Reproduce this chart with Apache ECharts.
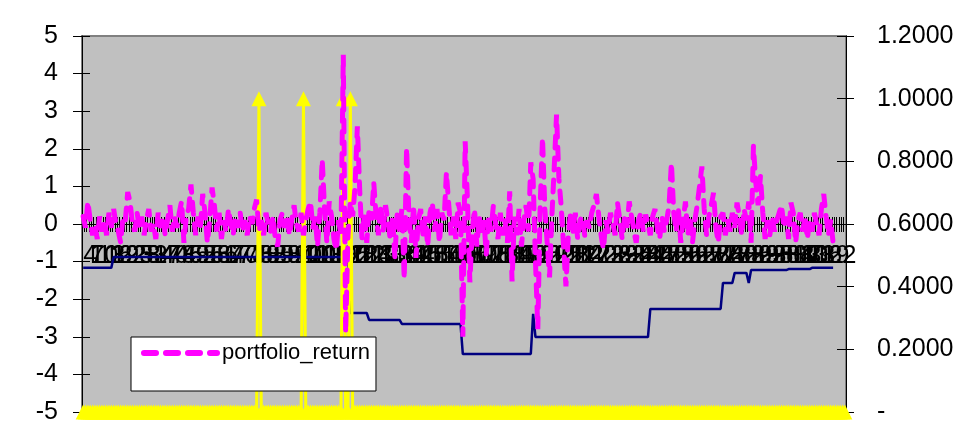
<!DOCTYPE html>
<html>
<head>
<meta charset="utf-8">
<title>portfolio_return</title>
<script src="https://cdn.jsdelivr.net/npm/echarts@6/dist/echarts.min.js"></script>
<style>
  html, body { margin: 0; padding: 0; background: #fff; }
  #chart { width: 960px; height: 441px; }
</style>
</head>
<body>
<div id="chart"></div>
<script>
// category count (1..326), labels every 3rd
const categoryCount = 326;
const categories = Array.from({ length: categoryCount }, (_, i) => String(i + 1));

// left axis: portfolio_return
const portfolioReturn = [
  0.2, -0.1, 0.6, 0.1, -0.3, 0.0, -0.4, 0.2, -0.2, 0.1, -0.3, 0.3, -0.1, 0.4, 0.0, -0.2, -0.5, 0.2, 0.1, 0.85,
  0.6, 0.0, -0.2, 0.3, -0.1, 0.2, -0.3, 0.1, 0.4, -0.2, 0.0, -0.4, 0.3, -0.1, 0.2, -0.3, 0.1, 0.5, -0.2, 0.2,
  -0.1, 0.3, 0.6, -0.5, 0.2, 0.4, 1.05, 0.3, -0.3, 0.2, -0.1, 0.8, 0.3, -0.5, 0.1, 0.97, 0.5, -0.2, 0.3, -0.4,
  0.1, -0.2, 0.4, 0.0, -0.3, 0.2, -0.1, 0.3, -0.2, 0.1, -0.3, 0.2, 0.0, 0.4, 0.65, -0.2, 0.1, -0.3, 0.3, 0.0,
  -0.2, 0.2, -0.4, -0.6, 0.1, 0.3, -0.1, 0.2, -0.3, 0.1, 0.5, 0.0, -0.2, 0.3, -0.3, 0.1, 0.4, 0.6, -0.1, 0.2,
  -0.6, 0.3, 1.72, 0.4, -0.5, 0.6, 0.2, -0.4, -0.7, 0.1, -0.3, 4.5, -2.9, -0.3, 0.6, 0.2, 1.0, 2.6, 0.9, -0.4,
  0.3, -0.5, 0.4, 0.1, 1.1, 0.2, -0.3, 0.5, -0.2, 0.5, 0.1, -0.4, 0.2, -0.9, 0.3, -0.2, 0.4, -1.47, 2.03, 0.2,
  -0.5, 0.5, -0.9, 0.1, 0.4, -0.3, 0.2, -0.6, 0.3, 0.57, -0.2, 0.4, -0.5, 0.3, 0.1, 1.37, 0.5, -0.3, 0.2, -0.4,
  0.57, 0.3, -3.0, 2.2, 0.6, -1.55, -0.2, 0.4, -0.6, 0.2, -0.3, 0.1, -0.8, 0.2, -0.2, 0.47, 0.0, -0.4, 0.3, -0.3,
  0.1, -0.5, 0.87, -1.53, 0.2, -0.3, 0.4, -0.6, 0.1, 0.5, -0.2, 1.64, 1.2, -1.0, -2.8, 0.5, 2.3, 0.4, -0.5, -1.42,
  0.2, 1.5, 2.91, 1.2, 0.45, -0.6, -1.66, -0.3, 0.3, -0.2, 0.3, -0.4, 0.1, 0.2, -0.3, 0.1, -0.1, 0.3, 0.5, 0.8,
  0.2, -0.3, -0.67, 0.1, -0.2, 0.3, 0.0, -0.3, 0.57, 0.1, -0.4, 0.2, -0.1, 0.6, 0.2, -0.2, -0.5, 0.1, 0.3, -0.2,
  0.25, 0.0, -0.3, 0.2, 0.4, -0.1, -0.4, 0.2, -0.2, 0.1, 0.5, 1.63, 0.3, -0.2, 0.4, -0.5, 0.1, 0.6, -0.3, 0.2,
  -0.5, 0.1, 0.5, 1.0, 1.53, 0.4, -0.3, 0.2, 0.5, 0.83, -0.1, -0.5, 0.2, 0.3, -0.3, 0.1, -0.2, 0.3, -0.1, 0.57,
  0.2, -0.3, 0.4, 0.1, 0.6, -0.5, 2.07, 1.1, 0.5, 1.27, 0.3, -0.4, 0.1, -0.3, 0.2, -0.2, 0.1, 0.3, 0.5, -0.1,
  0.2, -0.4, 0.57, 0.3, -0.5, 0.1, 0.3, -0.2, 0.2, -0.4, 0.1, -0.2, 0.3, 0.0, -0.3, 0.4, 0.8, 0.2, -0.3, 0.1,
  -0.5
];

// right axis: navy step line, read as [value, number of points]
const levelRuns = [
  [0.46, 13], [0.495, 101], [0.316, 8], [0.294, 14], [0.281, 26], [0.185, 30],
  [0.313, 1], [0.239, 49], [0.329, 31], [0.412, 5], [0.444, 6], [0.412, 1],
  [0.453, 16], [0.456, 10], [0.46, 10]
];

// right axis: yellow signal, 1 at these category positions, 0 elsewhere
const signalPositions = [75, 94, 111, 114];

const leftTicks = { min: -5, max: 5, interval: 1 };
const rightTicks = { min: 0, max: 1.2, interval: 0.2 };

const level = [];
levelRuns.forEach(([v, n]) => { for (let k = 0; k < n; k++) level.push(v); });
const signal = categories.map((_, i) => (signalPositions.includes(i) ? 1 : 0));

const font = 'Liberation Sans, Arial, sans-serif';
const gridTop = 36;
const gridBottom = 29;
const plotHeight = 441 - gridTop - gridBottom;
// category labels sit under the zero line (middle of the -5..5 axis)
const labelOffset = -plotHeight / 2;

const chart = echarts.init(document.getElementById('chart'));

const option = {
  animation: false,
  backgroundColor: '#ffffff',
  grid: {
    left: 82,
    right: 114,
    top: gridTop,
    bottom: gridBottom,
    outerBoundsMode: 'none',
    containLabel: false,
    show: true,
    backgroundColor: '#c0c0c0',
    borderColor: '#808080',
    borderWidth: 2,
  },
  legend: {
    data: ['portfolio_return'],
    left: 131,
    top: 337,
    orient: 'vertical',
    selectedMode: false,
    backgroundColor: '#ffffff',
    borderColor: '#000000',
    borderWidth: 1,
    borderRadius: 0,
    padding: [5, 6, 27, 10],
    itemWidth: 73,
    itemHeight: 22,
    itemStyle: { color: 'rgba(0,0,0,0)', borderColor: 'rgba(0,0,0,0)', borderWidth: 0, opacity: 0 },
    lineStyle: { width: 6, type: [12, 10], cap: 'round', color: '#ff00ff' },
    textStyle: { fontSize: 22, color: '#000', fontFamily: font },
  },
  xAxis: [
    {
      type: 'category',
      data: categories,
      position: 'bottom',
      boundaryGap: true,
      axisLine: { onZero: true, onZeroAxisIndex: 0, lineStyle: { color: '#000', width: 1 } },
      axisTick: { show: true, interval: 0, length: 8, lineStyle: { color: '#000' } },
      axisLabel: { show: false },
      splitLine: { show: false },
    },
    {
      type: 'category',
      data: categories,
      position: 'top',
      boundaryGap: true,
      axisLine: { onZero: true, onZeroAxisIndex: 0, lineStyle: { color: '#000', width: 1 } },
      axisTick: { show: true, interval: 0, length: 7, lineStyle: { color: '#000' } },
      axisLabel: { show: false },
      splitLine: { show: false },
    },
    {
      type: 'category',
      data: categories,
      position: 'bottom',
      offset: labelOffset,
      boundaryGap: true,
      axisLine: { show: false, onZero: false },
      axisTick: { show: false },
      axisLabel: {
        interval: 2,
        margin: 20,
        color: '#000',
        fontSize: 25,
        fontFamily: font,
        hideOverlap: false,
      },
      splitLine: { show: false },
    },
  ],
  yAxis: [
    {
      type: 'value',
      position: 'left',
      ...leftTicks,
      axisLine: { show: true, lineStyle: { color: '#000' } },
      axisTick: { show: true, length: 9, lineStyle: { color: '#000' } },
      axisLabel: { margin: 24, color: '#000', fontSize: 25, fontFamily: font },
      splitLine: { show: false },
    },
    {
      type: 'value',
      position: 'right',
      ...rightTicks,
      axisLine: { show: true, lineStyle: { color: '#000' } },
      axisTick: { show: true, length: 8, lineStyle: { color: '#000' } },
      axisLabel: {
        margin: 31,
        color: '#000',
        fontSize: 25,
        fontFamily: font,
        formatter: (v) => (Math.abs(v) < 1e-9 ? '-' : v.toFixed(4)),
      },
      splitLine: { show: false },
    },
    {
      type: 'value',
      position: 'left',
      ...leftTicks,
      axisLine: { show: false },
      axisTick: { show: true, inside: true, length: 8, lineStyle: { color: '#000' } },
      axisLabel: { show: false },
      splitLine: { show: false },
    },
    {
      type: 'value',
      position: 'right',
      ...rightTicks,
      axisLine: { show: false },
      axisTick: { show: true, inside: true, length: 9, lineStyle: { color: '#000' } },
      axisLabel: { show: false },
      splitLine: { show: false },
    },
  ],
  series: [
    {
      name: 'level',
      type: 'line',
      xAxisIndex: 0,
      yAxisIndex: 1,
      data: level,
      symbol: 'none',
      lineStyle: { color: '#000080', width: 2.5 },
      z: 2,
      silent: true,
    },
    {
      name: 'signal',
      type: 'line',
      xAxisIndex: 0,
      yAxisIndex: 1,
      data: signal,
      symbol: 'triangle',
      symbolSize: 15,
      showAllSymbol: true,
      clip: false,
      itemStyle: { color: '#ffff00' },
      lineStyle: { color: '#ffff00', width: 3 },
      z: 3,
      silent: true,
    },
    {
      name: 'portfolio_return',
      type: 'line',
      xAxisIndex: 0,
      yAxisIndex: 0,
      data: portfolioReturn,
      symbol: 'none',
      itemStyle: { color: '#ff00ff' },
      lineStyle: { color: '#ff00ff', width: 5, type: [12, 10], cap: 'round' },
      z: 4,
      silent: true,
    },
  ],
};

chart.setOption(option);
window.addEventListener('resize', () => chart.resize());
</script>
</body>
</html>
